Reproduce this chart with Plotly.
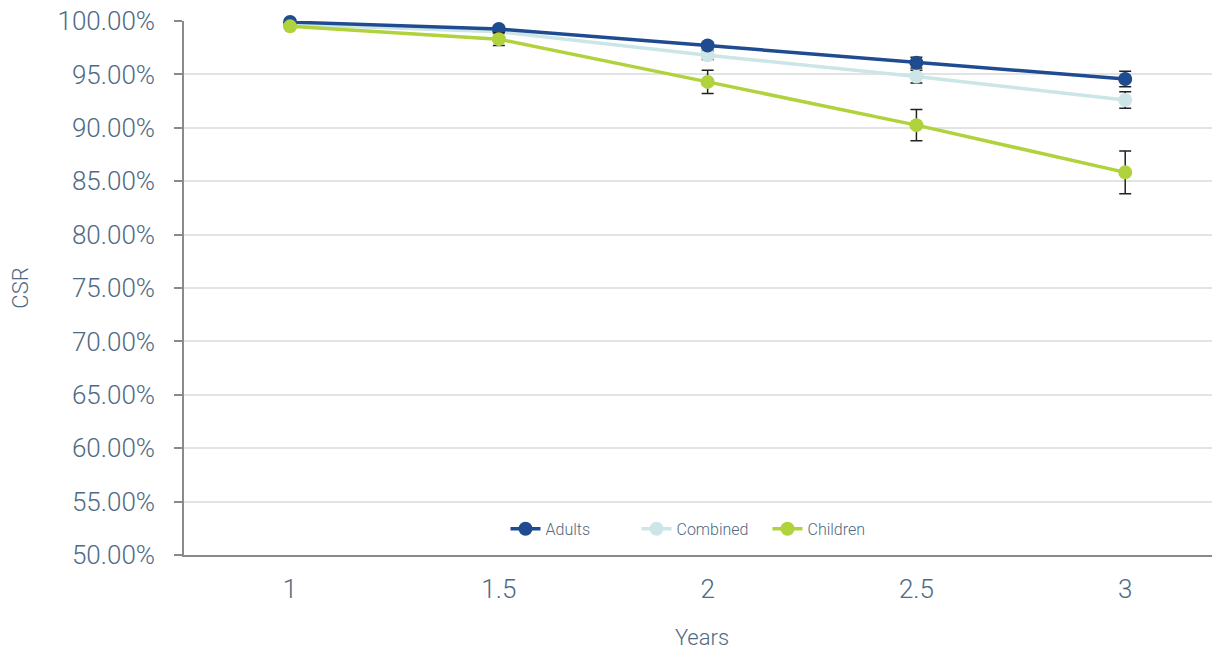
import plotly.graph_objects as go

# Данные
years = [1, 1.5, 2, 2.5, 3]

adults = [0.999, 0.9925, 0.977, 0.961, 0.9457]
adults_err = [0.001, 0.002, 0.003, 0.005, 0.0073]

combined = [0.997, 0.990, 0.968, 0.948, 0.926]
combined_err = [0.001, 0.002, 0.004, 0.006, 0.0078]

children = [0.995, 0.983, 0.943, 0.9025, 0.8583]
children_err = [0.001, 0.006, 0.011, 0.0147, 0.020]

# порядок отрисовки: Combined снизу, легенда — Adults, Combined, Children
series = [
    ("Combined", combined, combined_err, "#cce5e7", 2),
    ("Adults", adults, adults_err, "#1f4b91", 1),
    ("Children", children, children_err, "#b0d23c", 3),
]

text_color = "#4e6a84"

fig = go.Figure()
for name, vals, err, color, rank in series:
    fig.add_trace(go.Scatter(
        x=years, y=vals, name=name, legendrank=rank,
        mode="lines+markers", cliponaxis=False,
        line=dict(color=color, width=3.5),
        marker=dict(color=color, size=14),
        error_y=dict(type="data", array=err, visible=True,
                     color="#222222", thickness=1.5, width=6),
    ))

# страница сдвигает график на 8px (отступ body), поэтому поля чуть меньше
fig.update_layout(
    width=1220, height=649,
    paper_bgcolor="white", plot_bgcolor="white",
    margin=dict(l=176, r=8, t=13, b=102),
    font=dict(family="Roboto", weight=300, color=text_color),
    showlegend=True,
    legend=dict(orientation="h", x=0.5, xanchor="center", y=0.049, yanchor="middle",
                font=dict(size=16, color=text_color, weight=300),
                entrywidth=86, entrywidthmode="pixels",
                bgcolor="rgba(0,0,0,0)"),
    xaxis=dict(
        range=[0.746, 3.227], tickvals=years, ticktext=["1", "1.5", "2", "2.5", "3"],
        showgrid=False, zeroline=False, automargin=False,
        showline=True, linecolor="#8a8a8a", linewidth=2,
        tickfont=dict(size=26, color=text_color, weight=300),
        title=dict(text="Years", font=dict(size=22, color=text_color, weight=300), standoff=26),
        ticks="", ticklabelstandoff=10,
    ),
    yaxis=dict(
        range=[0.5, 1.0], dtick=0.05, tickformat=".2%",
        showgrid=True, gridcolor="#e3e3e3", gridwidth=1.5, zeroline=False, automargin=False,
        showline=True, linecolor="#8a8a8a", linewidth=1.5,
        ticks="outside", ticklen=8, tickcolor="#8a8a8a", tickwidth=1.5,
        ticklabelstandoff=14, ticklabeloverflow="allow",
        tickfont=dict(size=26, color=text_color, weight=300),
        title=dict(text="CSR", font=dict(size=22, color=text_color, weight=300), standoff=35),
    ),
)

fig.write_html("out.html")
